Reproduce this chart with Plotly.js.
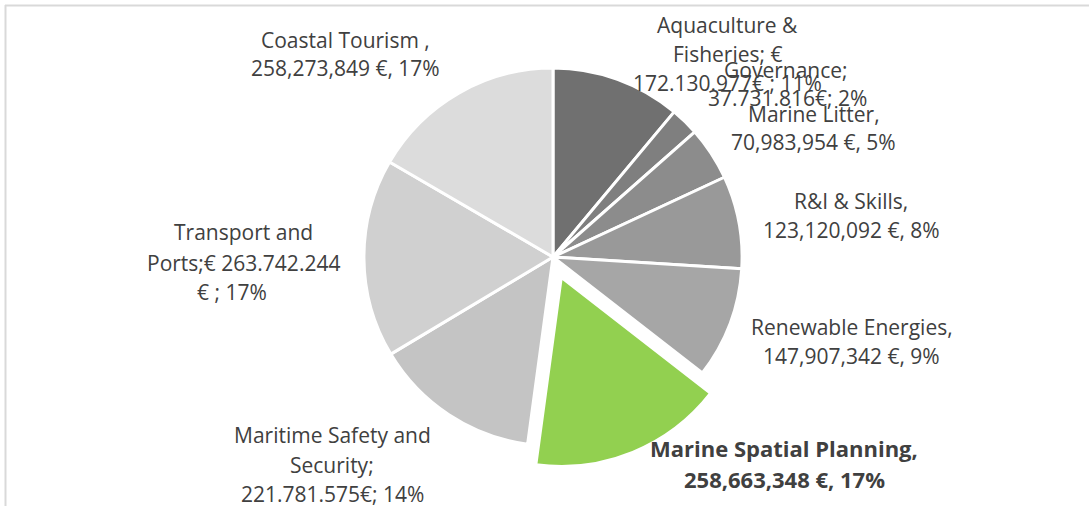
<!DOCTYPE html>
<html>
<head>
<meta charset="utf-8">
<script src="https://cdn.plot.ly/plotly-3.0.1.min.js"></script>
<style>html,body{margin:0;padding:0;background:#fff;}#chart{width:1089px;height:506px;}</style>
</head>
<body>
<div id="chart"></div>
<script>
// ---- data ----
var categories = ["Aquaculture & Fisheries", "Governance", "Marine Litter", "R&I & Skills",
  "Renewable Energies", "Marine Spatial Planning", "Maritime Safety and Security",
  "Transport and Ports", "Coastal Tourism"];
var values = [172130977, 37731816, 70983954, 123120092, 147907342, 258663348, 221781575, 263742244, 258273849];
var colors = ["#707070", "#7f7f7f", "#8c8c8c", "#999999", "#a6a6a6", "#92d050", "#c4c4c4", "#d0d0d0", "#dcdcdc"];
var pulls = [0, 0, 0, 0, 0, 0.116, 0, 0, 0];
// data label text lines (as written on the chart)
var labelLines = [
  ["Aquaculture &", "Fisheries; €", "172.130.977€ ; 11%"],
  ["Governance;", "37.731.816€; 2%"],
  ["Marine Litter,", "70,983,954 €, 5%"],
  ["R&I & Skills,", "123,120,092 €, 8%"],
  ["Renewable Energies,", "147,907,342 €, 9%"],
  ["Marine Spatial Planning,", "258,663,348 €, 17%"],
  ["Maritime Safety and", "Security;", "221.781.575€; 14%"],
  ["Transport and", "Ports;€ 263.742.244", "€ ; 17%"],
  ["Coastal Tourism ,", "258,273,849 €, 17%"]
];
var boldLabel = [false, false, false, false, false, true, false, false, false];

// ---- label placement (pixel centres of each line) ----
var W = 1089, H = 506;
var labelPos = [
  [[727, 25], [727, 54], [727, 83]],
  [[786, 70], [787, 98]],
  [[814, 114], [813, 142]],
  [[851, 201], [851, 230]],
  [[852, 327], [851, 356]],
  [[784, 448], [784, 479]],
  [[332, 435], [332, 465], [332, 494]],
  [[243, 232], [243, 263], [232, 292]],
  [[345, 40], [345, 68]]
];

var annotations = [];
labelLines.forEach(function (lines, i) {
  lines.forEach(function (t, j) {
    var p = labelPos[i][j];
    annotations.push({
      text: boldLabel[i] ? "<b>" + t + "</b>" : t,
      xref: "paper", yref: "paper",
      x: p[0] / W, y: 1 - p[1] / H,
      xanchor: "center", yanchor: "middle",
      showarrow: false,
      font: {family: "Open Sans, sans-serif", size: boldLabel[i] ? 22 : 21, color: "#404040"}
    });
  });
});

var trace = {
  type: "pie",
  labels: categories,
  values: values,
  sort: false,
  direction: "clockwise",
  rotation: 0,
  pull: pulls,
  textinfo: "none",
  hoverinfo: "label+value+percent",
  marker: {colors: colors, line: {color: "#ffffff", width: 3}},
  domain: {x: [342 / W, 764 / W], y: [1 - 468 / H, 1 - 46 / H]}
};

var layout = {
  width: W, height: H,
  margin: {l: 0, r: 0, t: 0, b: 0},
  paper_bgcolor: "#ffffff",
  showlegend: false,
  annotations: annotations,
  shapes: [
    {type: "line", xref: "paper", yref: "paper", x0: 5 / W, x1: 1, y0: 1 - 5.5 / H, y1: 1 - 5.5 / H,
     line: {color: "#d9d9d9", width: 2}},
    {type: "line", xref: "paper", yref: "paper", x0: 5.5 / W, x1: 5.5 / W, y0: 0, y1: 1 - 5 / H,
     line: {color: "#d9d9d9", width: 2}}
  ]
};

Plotly.newPlot("chart", [trace], layout, {displayModeBar: false, staticPlot: true});
</script>
</body>
</html>
